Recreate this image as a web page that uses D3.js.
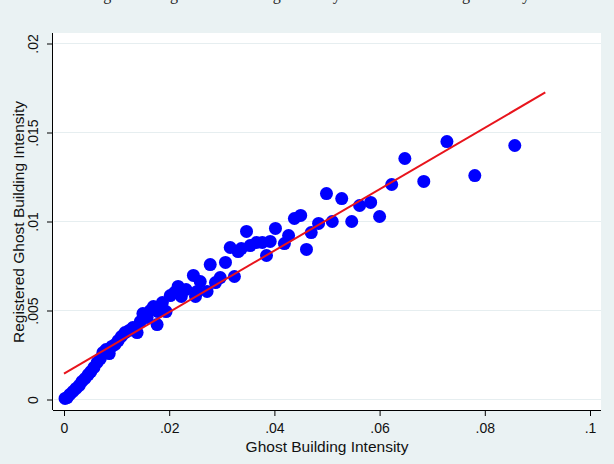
<!DOCTYPE html>
<html>
<head>
<meta charset="utf-8">
<script src="https://cdn.jsdelivr.net/npm/d3@7"></script>
<style>
	body { margin: 0; background: #eaf2f3; }
	#chart svg { display: block; }
	.axis path, .axis line { stroke: #000; }
	.axis text { font-family: "Liberation Sans", Arial, sans-serif; font-size: 14px; fill: #111; }
	.grid line { stroke: #e6eef0; stroke-width: 1; }
	.label { font-family: "Liberation Sans", Arial, sans-serif; font-size: 15.5px; fill: #111; }
</style>
</head>
<body>
<div id="chart"></div>
<script>
// ghost building intensity (x) vs registered ghost building intensity (y)
var ghost = [
	0.0002, 0.0006, 0.0011, 0.0017, 0.0023, 0.0029, 0.0034, 0.0040, 0.0046, 0.0051,
	0.0057, 0.0063, 0.0069, 0.0074, 0.0080, 0.0086, 0.0091, 0.0097, 0.0103, 0.0109,
	0.0116, 0.0124, 0.0131, 0.0139, 0.0145, 0.0150, 0.0158, 0.0164, 0.0170, 0.0177,
	0.0179, 0.0187, 0.0194, 0.0202, 0.0210, 0.0217, 0.0223, 0.0232, 0.0246, 0.0250,
	0.0253, 0.0259, 0.0272, 0.0278, 0.0288, 0.0297, 0.0307, 0.0316, 0.0324, 0.0331,
	0.0337, 0.0347, 0.0354, 0.0366, 0.0377, 0.0385, 0.0392, 0.0402, 0.0419, 0.0427,
	0.0438, 0.0450, 0.0461, 0.0470, 0.0484, 0.0499, 0.0510, 0.0528, 0.0547, 0.0562,
	0.0583, 0.0600, 0.0623, 0.0648, 0.0684, 0.0728, 0.0781, 0.0857
];

var registered = [
	0.00006, 0.00011, 0.00028, 0.00045, 0.00062, 0.00079, 0.00101, 0.00118, 0.00140, 0.00157,
	0.00180, 0.00208, 0.00230, 0.00264, 0.00281, 0.00258, 0.00298, 0.00309, 0.00331, 0.00354,
	0.00376, 0.00388, 0.00404, 0.00376, 0.00438, 0.00483, 0.00461, 0.00500, 0.00522, 0.00421,
	0.00494, 0.00545, 0.00494, 0.00584, 0.00601, 0.00635, 0.00579, 0.00618, 0.00697, 0.00579,
	0.00607, 0.00663, 0.00607, 0.00758, 0.00657, 0.00685, 0.00770, 0.00854, 0.00691, 0.00831,
	0.00848, 0.00944, 0.00865, 0.00882, 0.00882, 0.00809, 0.00888, 0.00961, 0.00876, 0.00921,
	0.01017, 0.01034, 0.00843, 0.00938, 0.00989, 0.01157, 0.01000, 0.01129, 0.01000, 0.01090,
	0.01107, 0.01028, 0.01208, 0.01354, 0.01225, 0.01449, 0.01258, 0.01427
];

// linear fit endpoints
var fitX = [0, 0.0915];
var fitY = [0.00146, 0.01725];

var xTicks = [0, 0.02, 0.04, 0.06, 0.08, 0.1];
var xTickLabels = ["0", ".02", ".04", ".06", ".08", ".1"];
var yTicks = [0, 0.005, 0.01, 0.015, 0.02];
var yTickLabels = ["0", ".005", ".01", ".015", ".02"];

var options = {
	container: { width: 614, height: 464 },
	plot: { left: 53, top: 33, right: 601, bottom: 410 }
};

var svg = d3.select("#chart").append("svg")
	.attr("width", options.container.width)
	.attr("height", options.container.height);

// caption, cropped off at the top like the source
svg.append("text")
	.attr("x", 310)
	.attr("y", 0)
	.attr("text-anchor", "middle")
	.style("font", "16px 'Liberation Serif', 'Times New Roman', serif")
	.style("fill", "#222")
	.text("Figure 4: Registered Building Intensity and Ghost Building Intensity");

// white plot region
svg.append("rect")
	.attr("x", options.plot.left)
	.attr("y", options.plot.top)
	.attr("width", options.plot.right - options.plot.left)
	.attr("height", options.plot.bottom - options.plot.top)
	.style("fill", "#fff");

var x = d3.scaleLinear().domain([0, 0.1]).range([64, 590]);
var y = d3.scaleLinear().domain([0, 0.02]).range([399.5, 43.5]);

// horizontal grid lines
svg.append("g")
	.attr("class", "grid")
	.selectAll("line")
	.data(yTicks)
	.enter().append("line")
	.attr("x1", options.plot.left + 1)
	.attr("x2", options.plot.right)
	.attr("y1", function(d) { return y(d); })
	.attr("y2", function(d) { return y(d); });

// points
svg.append("g")
	.selectAll("circle")
	.data(ghost.map(function(g, i) { return { x: g, y: registered[i] }; }))
	.enter().append("circle")
	.attr("cx", function(d) { return x(d.x); })
	.attr("cy", function(d) { return y(d.y); })
	.attr("r", 6.5)
	.style("fill", "#0000ff");

// fitted line
var line = d3.line()
	.x(function(d) { return x(d[0]); })
	.y(function(d) { return y(d[1]); });

svg.append("path")
	.datum(fitX.map(function(v, i) { return [v, fitY[i]]; }))
	.attr("d", line)
	.style("fill", "none")
	.style("stroke", "#e8141c")
	.style("stroke-width", 2);

// x axis
var xAxis = svg.append("g")
	.attr("class", "axis axis--x")
	.attr("transform", "translate(0," + options.plot.bottom + ")")
	.call(d3.axisBottom(x)
		.tickValues(xTicks)
		.tickSize(6)
		.tickPadding(7)
		.tickFormat(function(d, i) { return xTickLabels[i]; }));

xAxis.select(".domain")
	.attr("d", "M" + options.plot.left + ",0.5H" + options.plot.right);

// y axis
var yAxis = svg.append("g")
	.attr("class", "axis axis--y")
	.attr("transform", "translate(" + options.plot.left + ",0)")
	.call(d3.axisLeft(y)
		.tickValues(yTicks)
		.tickSize(6)
		.tickFormat(function(d, i) { return yTickLabels[i]; }));

yAxis.select(".domain")
	.attr("d", "M-0.5," + options.plot.top + "V" + options.plot.bottom);

yAxis.selectAll(".tick text")
	.attr("x", 0)
	.attr("dy", 0)
	.attr("text-anchor", "middle")
	.attr("transform", "translate(-15,0) rotate(-90)");

// axis titles
svg.append("text")
	.attr("class", "label")
	.attr("x", 327)
	.attr("y", 452)
	.attr("text-anchor", "middle")
	.text("Ghost Building Intensity");

svg.append("text")
	.attr("class", "label")
	.attr("transform", "translate(24," + 222 + ") rotate(-90)")
	.attr("text-anchor", "middle")
	.text("Registered Ghost Building Intensity");
</script>
</body>
</html>
